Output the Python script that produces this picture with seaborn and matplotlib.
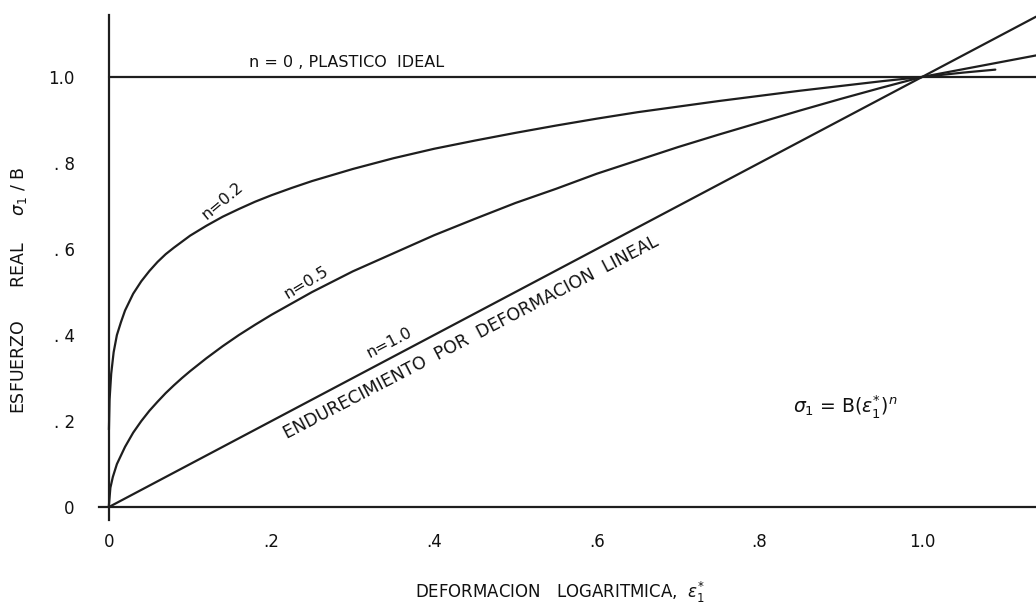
import matplotlib
matplotlib.use("Agg")
import matplotlib.pyplot as plt
import seaborn as sns
import pandas as pd

# ---- data ----
strain_n02 = [0.0002, 0.001, 0.003, 0.006, 0.01, 0.015, 0.02, 0.03, 0.04, 0.05, 0.06, 0.07, 0.08,
              0.10, 0.12, 0.14, 0.16, 0.18, 0.20, 0.225, 0.25, 0.275, 0.30, 0.35, 0.40, 0.45, 0.50,
              0.55, 0.60, 0.65, 0.70, 0.75, 0.80, 0.85, 0.90, 0.95, 1.00, 1.05, 1.09]
stress_n02 = [0.18, 0.25, 0.31, 0.36, 0.40, 0.43, 0.457, 0.496, 0.525, 0.549, 0.57, 0.588, 0.603,
              0.631, 0.654, 0.675, 0.693, 0.71, 0.725, 0.742, 0.758, 0.772, 0.786, 0.811, 0.833, 0.852, 0.87,
              0.887, 0.903, 0.918, 0.931, 0.944, 0.956, 0.968, 0.979, 0.99, 1.00, 1.01, 1.017]

strain_n05 = [0.0, 0.002, 0.005, 0.01, 0.02, 0.03, 0.04, 0.05, 0.06, 0.07, 0.08, 0.09, 0.10, 0.12,
              0.14, 0.16, 0.18, 0.20, 0.25, 0.30, 0.35, 0.40, 0.45, 0.50, 0.55, 0.60, 0.65, 0.70,
              0.75, 0.80, 0.85, 0.90, 0.95, 1.00, 1.07, 1.14]
stress_n05 = [0.0, 0.045, 0.07, 0.10, 0.14, 0.173, 0.20, 0.224, 0.245, 0.265, 0.283, 0.30, 0.316, 0.346,
              0.374, 0.40, 0.424, 0.447, 0.50, 0.548, 0.59, 0.632, 0.67, 0.707, 0.74, 0.775, 0.806, 0.837,
              0.866, 0.894, 0.922, 0.949, 0.975, 1.00, 1.025, 1.05]

strain_n10 = [0.0, 0.50, 1.00, 1.14]
stress_n10 = [0.0, 0.50, 1.00, 1.14]

strain_n00 = [0.0, 1.14]
stress_n00 = [1.0, 1.0]

x_ticks = [0, 0.2, 0.4, 0.6, 0.8, 1.0]
x_tick_labels = ["0", ".2", ".4", ".6", ".8", "1.0"]
y_ticks = [0, 0.2, 0.4, 0.6, 0.8, 1.0]
y_tick_labels = ["0", ". 2", ". 4", ". 6", ". 8", "1.0"]

curve_labels = ["n = 0 , PLASTICO  IDEAL", "n=0.2", "n=0.5", "n=1.0"]
# --------------------------------------

sns.set_style("white")
plt.rcParams["font.family"] = ["DejaVu Sans"]

frames = []
for name, xs, ys in [("n0", strain_n00, stress_n00), ("n02", strain_n02, stress_n02),
                     ("n05", strain_n05, stress_n05), ("n10", strain_n10, stress_n10)]:
    frames.append(pd.DataFrame({"strain": xs, "stress": ys, "curve": name}))
df = pd.concat(frames, ignore_index=True)

fig = plt.figure(figsize=(10.36, 6.15), dpi=100)
ax = fig.add_axes([99 / 1036, 1 - 520 / 615, 1 - 99 / 1036, (520 - 15) / 615])

line_color = "#1e1e1e"
sns.lineplot(data=df, x="strain", y="stress", units="curve", estimator=None,
             color=line_color, linewidth=1.6, sort=False, ax=ax, legend=False)

ax.set_xlim(-0.012, 1.14)
ax.set_ylim(-0.03, 1.144)

for side in ["top", "right"]:
    ax.spines[side].set_visible(False)
ax.spines["left"].set_position(("data", 0))
ax.spines["bottom"].set_position(("data", 0))
for side in ["left", "bottom"]:
    ax.spines[side].set_color(line_color)
    ax.spines[side].set_linewidth(1.6)

ax.set_xticks(x_ticks)
ax.set_xticklabels(x_tick_labels)
ax.set_yticks(y_ticks)
ax.set_yticklabels(y_tick_labels)
ax.tick_params(axis="both", direction="inout", length=9, width=1.0, color="#555555",
               labelsize=12, labelcolor="#111111")
ax.tick_params(axis="x", pad=14)
ax.tick_params(axis="y", pad=20)

ax.set_xlabel("DEFORMACION   LOGARITMICA,  $\\epsilon_1^{*}$", fontsize=12, color="#111111")
ax.xaxis.set_label_coords((560 - 99) / 937, (520 - 580) / 505)
ax.set_ylabel("ESFUERZO      REAL     $\\sigma_1$ / B", fontsize=12.5, color="#111111")
ax.yaxis.set_label_coords((29 - 99) / 937, (520 - 290) / 505)

txt = dict(color="#111111", fontsize=11.5)
ax.text(0.172, 1.033, curve_labels[0], ha="left", va="center", **txt)
ax.text(0.140, 0.712, curve_labels[1], ha="center", va="center", rotation=40, **txt)
ax.text(0.243, 0.522, curve_labels[2], ha="center", va="center", rotation=31, **txt)
ax.text(0.345, 0.382, curve_labels[3], ha="center", va="center", rotation=27.5, **txt)
ax.text(0.445, 0.395, "ENDURECIMIENTO  POR  DEFORMACION  LINEAL", ha="center", va="center",
        rotation=27.5, color="#111111", fontsize=12.5)
ax.text(0.905, 0.233, "$\\sigma_1$ = B($\\epsilon_1^{*}$)$^n$", ha="center", va="center",
        color="#111111", fontsize=13.5)

fig.savefig("out.png", dpi=100, facecolor="white")
